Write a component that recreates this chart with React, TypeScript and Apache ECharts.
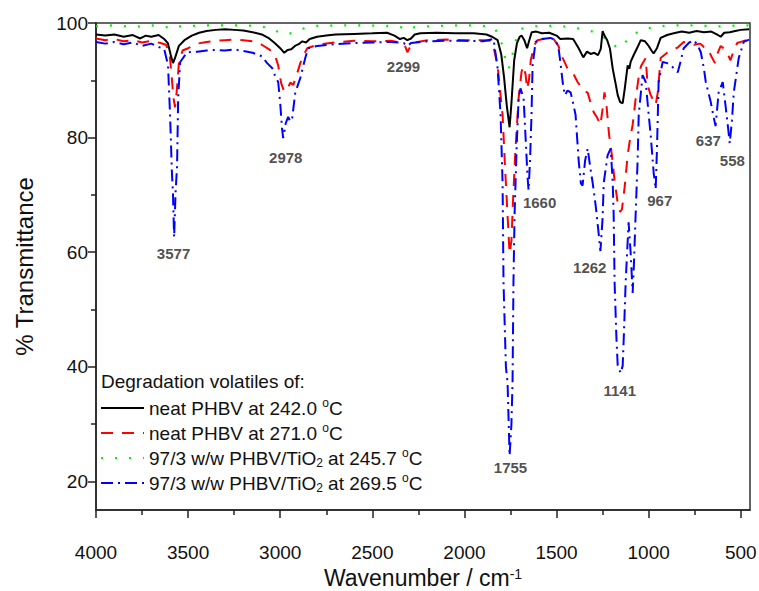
import React, { useEffect, useRef } from "react";
import * as echarts from "echarts";

// Wavenumber (cm-1), % transmittance pairs
const neat242: number[][] = [
  [4000, 98.0], [3950, 97.8], [3900, 98.0], [3850, 97.6], [3800, 97.9], [3760, 97.3], [3730, 97.8], [3700, 97.6],
  [3660, 97.9], [3630, 97.2], [3610, 96.5], [3595, 94.5], [3582, 93.0], [3570, 94.0], [3550, 96.0], [3520, 97.0],
  [3480, 97.8], [3440, 98.3], [3400, 98.6], [3350, 98.8], [3300, 98.9], [3250, 98.8], [3200, 98.7], [3150, 98.4],
  [3100, 98.0], [3060, 97.3], [3030, 96.5], [3000, 95.6], [2978, 94.8], [2960, 95.3], [2940, 95.4], [2920, 96.0],
  [2900, 96.3], [2880, 96.8], [2860, 96.6], [2840, 97.2], [2800, 97.6], [2750, 97.8], [2700, 98.0], [2600, 98.1],
  [2500, 98.2], [2420, 98.3], [2380, 97.8], [2350, 97.2], [2330, 97.4], [2310, 97.0], [2290, 97.3], [2270, 98.0],
  [2240, 98.2], [2150, 98.3], [2050, 98.2], [1950, 98.2], [1880, 98.0], [1850, 97.6], [1820, 97.0], [1800, 94.5],
  [1785, 90.5], [1770, 85.5], [1755, 81.8], [1745, 86.0], [1730, 93.5], [1715, 96.5], [1700, 97.6], [1690, 97.8],
  [1675, 97.0], [1660, 95.6], [1648, 97.0], [1635, 98.4], [1610, 98.5], [1580, 98.2], [1540, 98.3], [1500, 97.8],
  [1480, 97.2], [1440, 97.3], [1410, 97.2], [1380, 95.6], [1355, 94.0], [1335, 95.0], [1315, 94.6], [1295, 94.8],
  [1275, 94.4], [1260, 95.5], [1250, 98.6], [1240, 97.8], [1225, 97.0], [1210, 95.5], [1195, 92.0], [1180, 89.5],
  [1168, 87.4], [1155, 86.2], [1141, 86.0], [1130, 88.5], [1114, 92.6], [1105, 92.0], [1098, 93.2], [1080, 94.5],
  [1060, 95.8], [1043, 97.0], [1020, 96.8], [1000, 96.0], [985, 95.2], [973, 94.7], [955, 95.6], [935, 97.4],
  [900, 97.9], [864, 98.2], [820, 98.5], [780, 98.3], [740, 98.6], [700, 98.4], [660, 98.5], [630, 98.0],
  [609, 97.6], [590, 98.3], [560, 98.4], [530, 98.6], [500, 98.8], [455, 98.9],
];

const neat271: number[][] = [
  [4000, 97.3], [3950, 97.0], [3900, 97.2], [3850, 96.8], [3800, 97.0], [3750, 96.6], [3700, 96.9], [3650, 96.5],
  [3620, 96.2], [3600, 94.5], [3590, 91.0], [3580, 87.0], [3571, 85.3], [3562, 88.0], [3550, 93.0], [3530, 95.2],
  [3500, 95.6], [3450, 96.4], [3400, 96.7], [3350, 96.9], [3300, 97.0], [3250, 97.1], [3200, 97.0], [3150, 96.8],
  [3100, 96.2], [3060, 95.4], [3030, 94.5], [3011, 92.6], [2995, 89.5], [2978, 88.0], [2960, 88.6], [2945, 89.6],
  [2929, 89.2], [2910, 91.0], [2891, 93.0], [2870, 94.6], [2853, 95.6], [2800, 96.2], [2700, 96.6], [2600, 96.9],
  [2500, 96.8], [2400, 96.9], [2340, 96.5], [2320, 95.8], [2310, 94.9], [2300, 95.5], [2285, 96.5], [2200, 97.0],
  [2100, 97.1], [2000, 97.0], [1900, 97.0], [1860, 96.9], [1848, 96.7], [1820, 92.6], [1800, 86.0], [1793, 84.0],
  [1780, 75.0], [1766, 66.4], [1755, 59.8], [1745, 62.0], [1735, 70.0], [1723, 78.0], [1706, 86.9], [1690, 91.5],
  [1680, 92.5], [1668, 91.0], [1660, 88.5], [1650, 90.0], [1640, 93.5], [1620, 96.2], [1603, 97.0], [1560, 97.3],
  [1516, 97.2], [1490, 96.0], [1467, 93.9], [1440, 92.0], [1410, 91.2], [1386, 89.7], [1360, 88.5], [1331, 87.8],
  [1310, 85.5], [1298, 84.4], [1280, 83.5], [1262, 82.2], [1250, 85.0], [1240, 87.9], [1230, 86.0], [1215, 80.5],
  [1200, 77.0], [1185, 72.5], [1170, 69.0], [1155, 67.0], [1145, 67.5], [1130, 71.5], [1114, 77.0], [1100, 80.0],
  [1087, 82.2], [1070, 87.0], [1050, 91.5], [1040, 92.6], [1016, 93.9], [1006, 89.2], [990, 87.5], [975, 86.5],
  [962, 85.7], [950, 88.0], [935, 93.9], [900, 94.8], [864, 95.3], [840, 95.8], [810, 96.7], [780, 96.5],
  [755, 96.2], [720, 96.4], [700, 95.8], [680, 95.6], [660, 94.2], [640, 93.0], [625, 94.8], [609, 96.0],
  [590, 95.5], [570, 94.5], [556, 93.5], [540, 95.0], [520, 96.5], [500, 96.7], [470, 97.0], [455, 97.1],
];

const tio2_2457: number[][] = [
  [4000, 99.4], [3900, 99.6], [3800, 99.3], [3700, 99.6], [3600, 99.2], [3577, 99.0], [3550, 99.4], [3400, 99.6],
  [3200, 99.6], [3100, 99.4], [3050, 99.0], [3000, 98.3], [2970, 98.0], [2930, 98.3], [2880, 99.0], [2800, 99.5],
  [2600, 99.6], [2400, 99.5], [2330, 99.2], [2300, 98.8], [2270, 99.3], [2150, 99.5], [2000, 99.6], [1900, 99.5],
  [1840, 99.2], [1810, 97.8], [1790, 95.5], [1775, 93.2], [1760, 92.0], [1745, 93.5], [1730, 96.0], [1710, 98.2],
  [1690, 99.0], [1660, 99.2], [1600, 99.5], [1500, 99.5], [1400, 99.2], [1350, 98.8], [1300, 98.5], [1260, 97.8],
  [1230, 97.2], [1200, 96.5], [1175, 95.8], [1160, 95.6], [1140, 96.2], [1110, 97.2], [1080, 98.0], [1040, 98.8],
  [1000, 99.1], [950, 99.3], [900, 99.6], [800, 99.6], [700, 99.5], [600, 99.4], [500, 99.6], [455, 99.6],
];

const tio2_2695: number[][] = [
  [4000, 96.7], [3950, 96.4], [3900, 96.7], [3850, 96.3], [3800, 96.6], [3750, 96.0], [3700, 96.4], [3660, 95.8],
  [3630, 95.5], [3609, 92.6], [3598, 84.0], [3588, 74.0], [3582, 70.0], [3576, 62.6], [3568, 70.5], [3560, 75.0],
  [3554, 86.9], [3543, 93.2], [3505, 94.9], [3450, 95.0], [3400, 95.2], [3350, 95.3], [3300, 95.2], [3250, 95.4],
  [3200, 95.1], [3150, 94.8], [3100, 94.2], [3071, 93.0], [3043, 92.1], [3025, 90.5], [3011, 89.7], [3000, 86.0],
  [2990, 81.5], [2984, 79.9], [2970, 82.5], [2957, 83.6], [2945, 82.8], [2935, 83.4], [2918, 87.9], [2891, 90.4],
  [2864, 93.9], [2848, 95.6], [2800, 96.0], [2700, 96.3], [2600, 96.5], [2500, 96.6], [2400, 96.7], [2330, 96.5],
  [2310, 96.0], [2290, 96.5], [2200, 96.8], [2100, 96.9], [2000, 96.9], [1900, 96.8], [1842, 97.2], [1820, 92.1],
  [1804, 84.0], [1793, 72.1], [1788, 54.7], [1775, 40.0], [1766, 37.2], [1755, 24.5], [1745, 30.0], [1739, 37.2],
  [1734, 54.7], [1728, 66.4], [1717, 78.1], [1706, 86.9], [1696, 88.6], [1679, 86.9], [1665, 78.0], [1658, 73.4],
  [1652, 70.8], [1644, 76.0], [1636, 84.0], [1630, 92.6], [1614, 96.7], [1580, 97.2], [1533, 97.4], [1505, 97.0],
  [1489, 95.6], [1475, 92.0], [1467, 89.7], [1455, 87.4], [1440, 88.2], [1424, 87.9], [1410, 86.0], [1397, 84.0],
  [1380, 76.0], [1368, 72.0], [1359, 71.6], [1345, 76.0], [1331, 78.1], [1318, 75.0], [1304, 72.1], [1288, 68.2],
  [1272, 63.4], [1262, 60.2], [1250, 66.0], [1244, 72.1], [1223, 76.9], [1206, 78.1], [1195, 72.0], [1190, 66.4],
  [1185, 54.7], [1175, 45.0], [1168, 40.2], [1152, 38.9], [1141, 40.2], [1133, 47.0], [1125, 54.7], [1109, 65.2],
  [1098, 60.0], [1087, 52.9], [1080, 58.0], [1071, 66.4], [1060, 76.0], [1054, 84.0], [1033, 90.9], [1016, 89.7],
  [1000, 84.0], [989, 80.4], [973, 73.9], [962, 71.0], [955, 78.0], [946, 89.7], [924, 93.2], [900, 93.0],
  [880, 92.6], [860, 92.0], [842, 91.4], [825, 93.5], [810, 95.6], [780, 96.6], [755, 97.0], [735, 96.2],
  [717, 94.9], [700, 92.0], [690, 89.7], [663, 86.2], [650, 84.0], [637, 82.0], [620, 87.9], [598, 89.7],
  [581, 85.1], [570, 82.0], [560, 79.0], [548, 83.0], [538, 87.9], [511, 93.9], [484, 96.7], [462, 97.0], [455, 97.1],
];

// Peak annotations: [label, wavenumber, transmittance] at the label's position
const peakLabels: [string, number, number][] = [
  ["3577", 3579, 59.8], ["2978", 2970, 76.6], ["2299", 2331, 92.4], ["1755", 1750, 22.5], ["1660", 1592, 68.7],
  ["1262", 1320, 57.4], ["1141", 1157, 35.8], ["967", 940, 69.0], ["637", 676, 79.5], ["558", 546, 76.0],
];

const seriesNames = [
  "neat PHBV at 242.0 °C",
  "neat PHBV at 271.0 °C",
  "97/3 w/w PHBV/TiO2 at 245.7 °C",
  "97/3 w/w PHBV/TiO2 at 269.5 °C",
];
const richNames = [
  "neat PHBV at 242.0 {sup|o}C",
  "neat PHBV at 271.0 {sup|o}C",
  "97/3 w/w PHBV/TiO{sub|2} at 245.7 {sup|o}C",
  "97/3 w/w PHBV/TiO{sub|2} at 269.5 {sup|o}C",
];

const xMajor = [4000, 3500, 3000, 2500, 2000, 1500, 1000, 500];
const xMinor = [3750, 3250, 2750, 2250, 1750, 1250, 750];
const yMajor = [20, 40, 60, 80, 100];
const yMinor = [30, 50, 70, 90];

const FONT = "'Liberation Sans', Arial, sans-serif";

export default function App() {
  const ref = useRef<HTMLDivElement>(null);
  useEffect(() => {
    document.body.style.margin = "0";
    if (!ref.current) return;
    const chart = echarts.init(ref.current, undefined, { renderer: "svg" });
    const baseX = {
      type: "value" as const,
      inverse: true,
      min: 450,
      max: 4000,
      position: "bottom" as const,
      splitLine: { show: false },
    };
    const baseY = {
      type: "value" as const,
      min: 15,
      max: 100,
      position: "left" as const,
      splitLine: { show: false },
    };
    const lineStyles = [
      { color: "#000000", width: 2, type: "solid" },
      { color: "#ff0000", width: 2, type: [12, 9] },
      { color: "#00f000", width: 2.2, type: [2, 12] },
      { color: "#0000ff", width: 2, type: [12, 5, 2, 5] },
    ];
    const datasets = [neat242, neat271, tio2_2457, tio2_2695];
    const option: any = {
      animation: false,
      textStyle: { fontFamily: FONT },
      grid: {
        left: 96,
        right: 9,
        top: 23,
        bottom: 81,
        containLabel: false,
        outerBoundsMode: "none",
        show: true,
        borderColor: "#333",
        borderWidth: 1.5,
        backgroundColor: "transparent",
      },
      title: {
        text: "Degradation volatiles of:",
        left: 101,
        top: 372,
        padding: 0,
        textStyle: { fontSize: 19, fontWeight: "normal", color: "#111", fontFamily: FONT },
      },
      legend: {
        data: seriesNames,
        orient: "vertical",
        left: 100,
        top: 397,
        padding: 0,
        itemGap: 3,
        itemWidth: 43,
        itemHeight: 14,
        itemStyle: { opacity: 0 },
        formatter: (name: string) => richNames[seriesNames.indexOf(name)],
        textStyle: {
          fontSize: 19,
          color: "#111",
          fontFamily: FONT,
          lineHeight: 22,
          rich: {
            sup: { fontSize: 12, verticalAlign: "top", lineHeight: 12, fontFamily: FONT, color: "#111" },
            sub: { fontSize: 12, verticalAlign: "bottom", lineHeight: 12, fontFamily: FONT, color: "#111" },
          },
        },
      },
      xAxis: [
        {
          ...baseX,
          name: "Wavenumber / cm{sup|-1}",
          nameLocation: "middle",
          nameGap: 54,
          nameTextStyle: {
            fontSize: 23,
            color: "#111",
            fontFamily: FONT,
            rich: { sup: { fontSize: 14, verticalAlign: "top", lineHeight: 14, fontFamily: FONT, color: "#111" } },
          },
          axisLine: { show: true, onZero: false, lineStyle: { color: "#222", width: 1.5 } },
          axisTick: { show: true, length: 8, customValues: xMajor, lineStyle: { color: "#222", width: 1.5 } },
          axisLabel: {
            show: true,
            customValues: xMajor,
            formatter: (v: number) => String(v),
            fontSize: 19,
            color: "#111",
            margin: 33,
            fontFamily: FONT,
          },
        },
        {
          ...baseX,
          axisLine: { show: false, onZero: false },
          axisTick: { show: true, length: 5, customValues: xMinor, lineStyle: { color: "#222", width: 1.5 } },
          axisLabel: { show: false },
        },
      ],
      yAxis: [
        {
          ...baseY,
          name: "% Transmittance",
          nameLocation: "middle",
          nameGap: 60,
          nameTextStyle: { fontSize: 24, color: "#111", fontFamily: FONT },
          axisLine: { show: true, onZero: false, lineStyle: { color: "#222", width: 1.5 } },
          axisTick: { show: true, length: 8, customValues: yMajor, lineStyle: { color: "#222", width: 1.5 } },
          axisLabel: { show: true, customValues: yMajor, fontSize: 19, color: "#111", margin: 8, fontFamily: FONT },
        },
        {
          ...baseY,
          axisLine: { show: false, onZero: false },
          axisTick: { show: true, length: 5, customValues: yMinor, lineStyle: { color: "#222", width: 1.5 } },
          axisLabel: { show: false },
        },
      ],
      series: [
        ...datasets.map((d, i) => ({
          name: seriesNames[i],
          type: "line",
          xAxisIndex: 0,
          yAxisIndex: 0,
          data: d,
          symbol: "none",
          showSymbol: false,
          lineStyle: lineStyles[i],
          itemStyle: { color: lineStyles[i].color },
          z: i === 0 ? 5 : 2,
        })),
        {
          name: "peaks",
          type: "scatter",
          xAxisIndex: 0,
          yAxisIndex: 0,
          symbolSize: 0,
          data: peakLabels.map((p) => ({ name: p[0], value: [p[1], p[2]] })),
          label: {
            show: true,
            position: "inside",
            formatter: (p: any) => p.name,
            fontSize: 15,
            fontWeight: "bold",
            color: "#222",
            fontFamily: FONT,
          },
          z: 10,
          silent: true,
        },
      ],
    };
    chart.setOption(option);
    return () => chart.dispose();
  }, []);
  return <div ref={ref} style={{ width: 759, height: 591 }} />;
}
